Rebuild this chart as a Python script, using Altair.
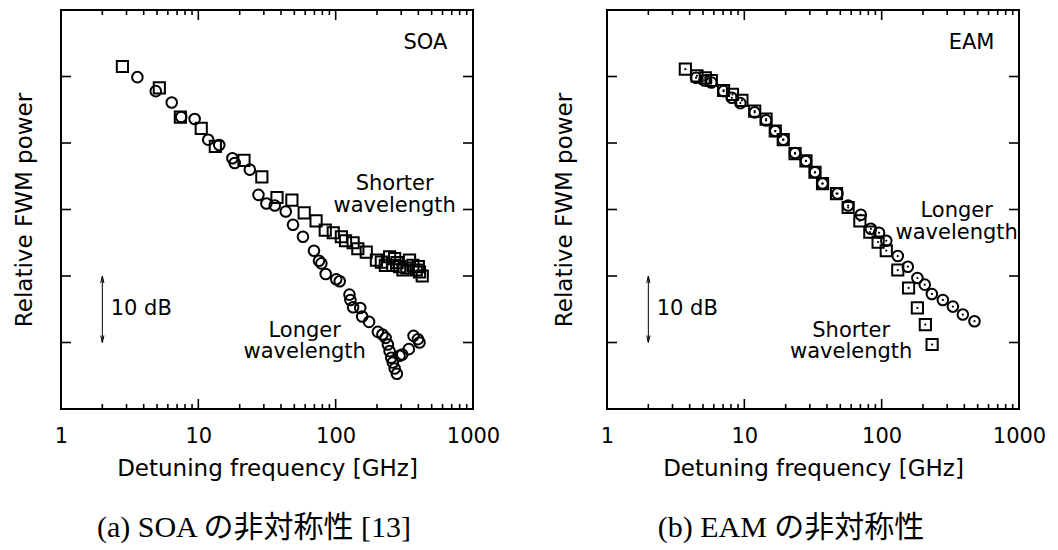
import altair as alt
import pandas as pd

# ---------------- data ----------------
soa_short_x = [2.8, 5.2, 7.4, 10.5, 13.3, 21.5, 29, 37.4, 48, 59, 72, 84, 96, 110, 118, 134,
               145, 167, 198, 215, 247, 269, 261, 292, 309, 345, 365, 386, 408, 427,
               230, 280, 330, 400]
soa_short_y = [51.5, 48.3, 43.9, 42.2, 39.5, 37.4, 34.9, 31.8, 31.4, 29.5, 28.3, 26.9, 26.5, 25.9, 25.3, 25.0,
               24.1, 23.6, 22.4, 22.1, 22.9, 22.6, 21.6, 21.4, 20.9, 22.4, 21.6, 20.9, 20.6, 20.0,
               21.6, 22.0, 21.2, 21.4]

soa_long_x = [3.6, 4.9, 6.4, 7.5, 9.4, 11.8, 14.2, 17.7, 18.4, 23.7, 27.4, 31.3, 36, 43.3, 48.9,
              57.8, 69.5, 75.6, 78.7, 84.6, 101, 107, 126, 128, 134, 151, 156, 175, 203, 219,
              231, 240, 247, 254, 261, 269, 279, 292, 305, 341, 369, 397, 408]
soa_long_y = [49.9, 47.8, 46.1, 43.9, 43.6, 40.5, 39.7, 37.7, 37.0, 36.0, 32.2, 30.9, 30.6, 29.7, 27.7,
              25.9, 23.8, 22.3, 21.9, 20.3, 19.5, 19.2, 17.2, 16.4, 15.3, 15.2, 13.9, 13.1, 11.6, 11.2,
              10.7, 9.7, 8.7, 7.7, 7.0, 6.1, 5.3, 8.0, 8.2, 9.0, 11.0, 10.5, 10.0]

eam_short_x = [3.72, 4.52, 5.2, 5.75, 7.06, 8.2, 9.6, 11.9, 14.4, 16.8, 19.2, 23.4, 28.1, 32.7,
               37.1, 46.9, 57, 69.4, 82, 94.2, 108, 131, 157, 182, 208, 233]
eam_short_y = [51.1, 50.1, 49.8, 49.4, 47.9, 47.3, 46.4, 44.8, 43.6, 41.8, 40.5, 38.4, 37.3, 35.6,
               33.9, 32.4, 30.3, 28.3, 26.6, 25.1, 23.8, 20.9, 18.2, 15.2, 12.7, 9.7]

eam_long_x = [4.45, 5.13, 5.75, 7.06, 8.1, 9.35, 11.9, 14.4, 16.8, 19.2, 23.4, 28.1, 32.7, 37.1,
              47.7, 57, 70.5, 83.4, 95.7, 108, 131, 155, 182, 206, 232, 279, 330, 390, 474]
eam_long_y = [49.8, 49.4, 49.1, 47.8, 46.8, 46.0, 44.6, 43.4, 41.8, 40.5, 38.5, 37.3, 35.6, 33.9,
              32.4, 30.6, 29.2, 27.1, 26.5, 25.3, 23.0, 21.4, 19.7, 18.7, 17.3, 16.4, 15.4, 14.2, 13.2]

x_labels = [1, 10, 100, 1000]
x_minor = [2, 3, 4, 5, 6, 7, 8, 9, 20, 30, 40, 50, 60, 70, 80, 90, 200, 300, 400, 500, 600, 700, 800, 900]
y_ticks = [10, 20, 30, 40, 50]

soa_notes_text = ["SOA", "Shorter", "wavelength", "Longer", "wavelength", "10 dB"]
soa_notes_x = [650, 269, 269, 59.5, 59.5, 2.3]
soa_notes_y = [55.1, 33.8, 30.5, 11.8, 8.5, 15]
soa_notes_align = ["right", "center", "center", "center", "center", "left"]

eam_notes_text = ["EAM", "Longer", "wavelength", "Shorter", "wavelength", "10 dB"]
eam_notes_x = [662, 352, 352, 60, 60, 2.3]
eam_notes_y = [55.1, 29.8, 26.5, 11.8, 8.5, 15]
eam_notes_align = ["right", "center", "center", "center", "center", "left"]

arrow_x = 2
arrow_y0, arrow_y1 = 10, 20

# ---------------- style ----------------
W, H = 412, 399
FONT = "DejaVu Sans"
SERIF = "'Liberation Serif', 'Noto Sans CJK JP', serif"
xscale = alt.Scale(type="log", domain=[1, 1000])
yscale = alt.Scale(domain=[0, 60])


def xaxis():
    return alt.Axis(values=x_labels, format="d", ticks=False, tickSize=0, domain=False, grid=False,
                    labelPadding=16, labelFontSize=21, labelFont=FONT, labelColor="black",
                    title="Detuning frequency [GHz]", titleFontSize=23, titleFont=FONT,
                    titleFontWeight="normal", titleColor="black", titlePadding=11, labelFlush=False)


def yaxis(pad):
    return alt.Axis(labels=False, ticks=False, tickSize=0, domain=False, grid=False,
                    title="Relative FWM power", titleFontSize=23, titleFont=FONT,
                    titleFontWeight="normal", titleColor="black", titlePadding=pad)


def panel(sx, sy, lx, ly, ntext, nx, ny, nalign, dots, caption, cdx, ypad):
    X = lambda f: alt.X(f, type="quantitative", scale=xscale, axis=xaxis())
    Y = lambda f: alt.Y(f, type="quantitative", scale=yscale, axis=yaxis(ypad))

    major_df = pd.DataFrame({"t": x_labels})
    minor_df = pd.DataFrame({"t": x_minor})
    yt_df = pd.DataFrame({"t": y_ticks})
    layers = []
    for df, ln in ((major_df, 10), (minor_df, 5)):
        base = alt.Chart(df).mark_rule(color="black", strokeWidth=1.6)
        layers.append(base.encode(x=X("t"), y=alt.value(H), y2=alt.value(H - ln)))
        layers.append(base.encode(x=X("t"), y=alt.value(0), y2=alt.value(ln)))
    ybase = alt.Chart(yt_df).mark_rule(color="black", strokeWidth=1.6)
    layers.append(ybase.encode(y=Y("t"), x=alt.value(0), x2=alt.value(10)))
    layers.append(ybase.encode(y=Y("t"), x=alt.value(W), x2=alt.value(W - 10)))

    sdf = pd.DataFrame({"x": sx, "y": sy})
    ldf = pd.DataFrame({"x": lx, "y": ly})
    layers.append(alt.Chart(sdf).mark_point(shape="square", filled=False, size=125, strokeWidth=2,
                                            color="black", opacity=1).encode(x=X("x"), y=Y("y")))
    layers.append(alt.Chart(ldf).mark_point(shape="circle", filled=False, size=112, strokeWidth=2,
                                            color="black", opacity=1).encode(x=X("x"), y=Y("y")))
    if dots:
        for df in (sdf, ldf):
            layers.append(alt.Chart(df).mark_point(shape="circle", filled=True, size=5,
                                                   color="black", opacity=1).encode(x=X("x"), y=Y("y")))

    # 10 dB arrow
    adf = pd.DataFrame({"x": [arrow_x], "y": [arrow_y0], "y2": [arrow_y1]})
    layers.append(alt.Chart(adf).mark_rule(color="black", strokeWidth=1).encode(
        x=X("x"), y=Y("y"), y2="y2:Q"))
    hdf = pd.DataFrame({"x": [arrow_x, arrow_x], "y": [arrow_y1, arrow_y0],
                        "s": ["M-0.8,3.5L0,0L0.8,3.5", "M-0.8,-3.5L0,0L0.8,-3.5"]})
    layers.append(alt.Chart(hdf).mark_point(filled=False, size=16, strokeWidth=1, color="black",
                                            opacity=1).encode(
        x=X("x"), y=Y("y"), shape=alt.Shape("s:N", scale=None, legend=None)))

    ndf = pd.DataFrame({"x": nx, "y": ny, "t": ntext, "a": nalign})
    for al in ("left", "center", "right"):
        sub = ndf[ndf["a"] == al]
        layers.append(alt.Chart(sub).mark_text(font=FONT, fontSize=21, align=al, baseline="middle",
                                               color="black").encode(x=X("x"), y=Y("y"), text="t:N"))

    return alt.layer(*layers).properties(
        width=W, height=H,
        title=alt.TitleParams(caption, orient="bottom", font=SERIF, fontSize=30, fontWeight="normal",
                              color="black", dx=cdx, offset=33, anchor="middle"))


left = panel(soa_short_x, soa_short_y, soa_long_x, soa_long_y, soa_notes_text, soa_notes_x,
             soa_notes_y, soa_notes_align, False, "(a) SOA の非対称性 [13]", -13, 25)
right = panel(eam_short_x, eam_short_y, eam_long_x, eam_long_y, eam_notes_text, eam_notes_x,
              eam_notes_y, eam_notes_align, True, "(b) EAM の非対称性", -22, 31)

chart = alt.hconcat(left, right, spacing=51).properties(
    padding={"left": 4, "top": 0, "right": 0, "bottom": 0},
    background="white",
).configure_view(stroke="black", strokeWidth=2)

chart.save("out.html", embed_options={"renderer": "svg", "actions": False})
